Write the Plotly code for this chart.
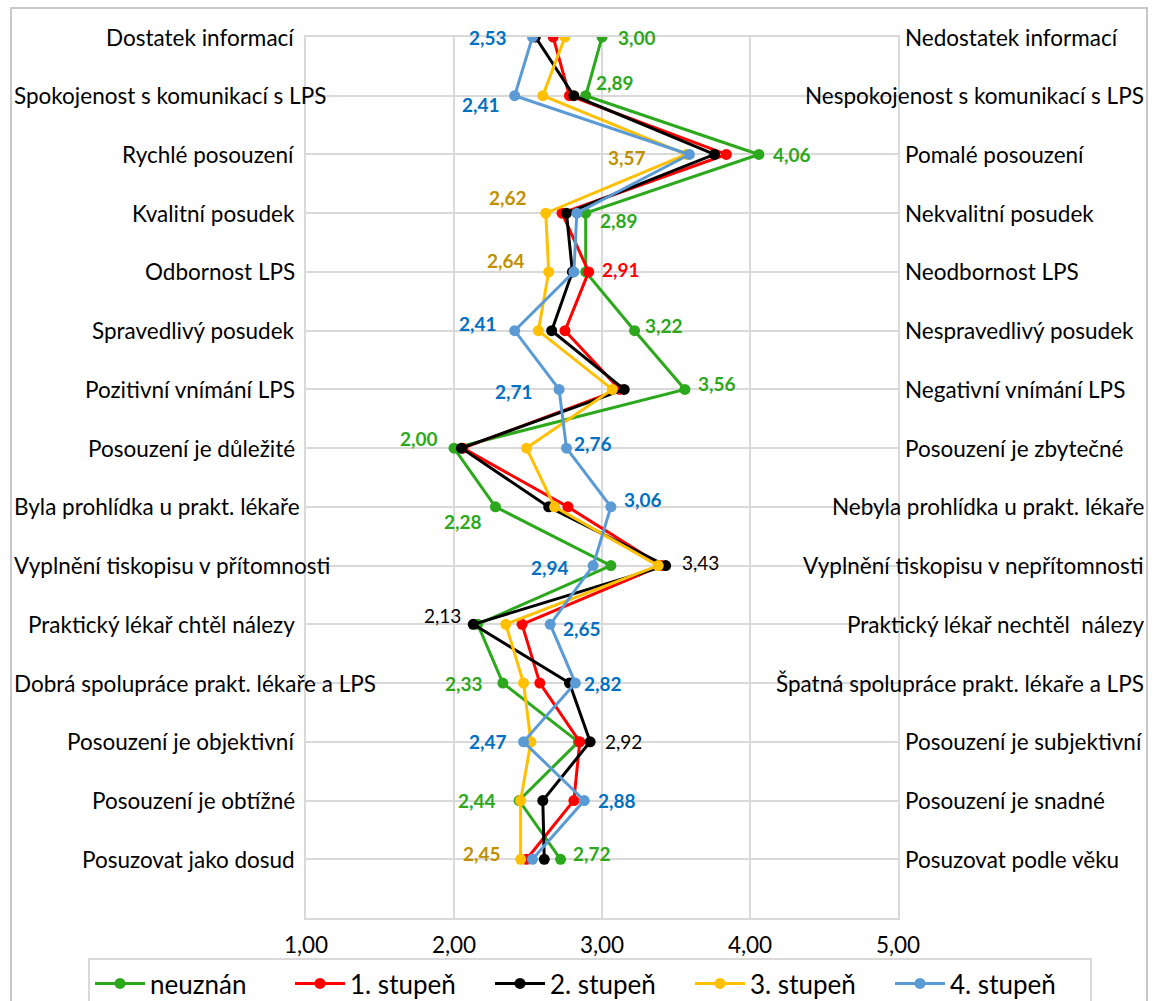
import plotly.graph_objects as go

# Semantic differential: pairs of opposite statements, one row per pair
left_labels = [
    "Dostatek informací",
    "Spokojenost s komunikací s LPS",
    "Rychlé posouzení",
    "Kvalitní posudek",
    "Odbornost LPS",
    "Spravedlivý posudek",
    "Pozitivní vnímání LPS",
    "Posouzení je důležité",
    "Byla prohlídka u prakt. lékaře",
    "Vyplnění tiskopisu v přítomnosti",
    "Praktický lékař chtěl nálezy",
    "Dobrá spolupráce prakt. lékaře a LPS",
    "Posouzení je objektivní",
    "Posouzení je obtížné",
    "Posuzovat jako dosud",
]
right_labels = [
    "Nedostatek informací",
    "Nespokojenost s komunikací s LPS",
    "Pomalé posouzení",
    "Nekvalitní posudek",
    "Neodbornost LPS",
    "Nespravedlivý posudek",
    "Negativní vnímání LPS",
    "Posouzení je zbytečné",
    "Nebyla prohlídka u prakt. lékaře",
    "Vyplnění tiskopisu v nepřítomnosti",
    "Praktický lékař nechtěl  nálezy",
    "Špatná spolupráce prakt. lékaře a LPS",
    "Posouzení je subjektivní",
    "Posouzení je snadné",
    "Posuzovat podle věku",
]

# Mean scores per group (scale 1-5)
neuznan = [3.00, 2.89, 4.06, 2.89, 2.89, 3.22, 3.56, 2.00, 2.28, 3.06, 2.16, 2.33, 2.84, 2.44, 2.72]
stupen1 = [2.67, 2.78, 3.84, 2.73, 2.91, 2.75, 3.12, 2.06, 2.77, 3.40, 2.46, 2.58, 2.85, 2.81, 2.49]
stupen2 = [2.55, 2.81, 3.76, 2.76, 2.80, 2.66, 3.15, 2.05, 2.64, 3.43, 2.13, 2.78, 2.92, 2.60, 2.61]
stupen3 = [2.75, 2.60, 3.57, 2.62, 2.64, 2.57, 3.07, 2.49, 2.68, 3.38, 2.35, 2.47, 2.52, 2.45, 2.45]
stupen4 = [2.53, 2.41, 3.59, 2.83, 2.81, 2.41, 2.71, 2.76, 3.06, 2.94, 2.65, 2.82, 2.47, 2.88, 2.53]

x_ticks = [1, 2, 3, 4, 5]
rows = list(range(1, len(left_labels) + 1))

series = [
    ("neuznán", neuznan, "#2ca81c", "#2ca81c", "bold"),
    ("1. stupeň", stupen1, "#ff0000", "#ff0000", "bold"),
    ("2. stupeň", stupen2, "#000000", "#000000", "normal"),
    ("3. stupeň", stupen3, "#ffc000", "#bf9000", "bold"),
    ("4. stupeň", stupen4, "#5b9bd5", "#0070c0", "bold"),
]
by_name = {s[0]: s for s in series}

# Value labels: (row, series, xanchor, xshift, yshift)
value_labels = [
    (1, "4. stupeň", "right", -23, 0), (1, "neuznán", "left", 14, 0),
    (2, "neuznán", "left", 8, 13), (2, "4. stupeň", "right", -13, -9),
    (3, "neuznán", "left", 12, 0), (3, "3. stupeň", "right", -38, -3),
    (4, "3. stupeň", "right", -17, 16), (4, "neuznán", "left", 12, -7),
    (5, "3. stupeň", "right", -22, 11), (5, "1. stupeň", "left", 11, 2),
    (6, "4. stupeň", "right", -16, 7), (6, "neuznán", "left", 8, 5),
    (7, "4. stupeň", "right", -24, -2), (7, "neuznán", "left", 11, 6),
    (8, "neuznán", "right", -14, 10), (8, "4. stupeň", "left", 6, 5),
    (9, "4. stupeň", "left", 11, 7), (9, "neuznán", "right", -11, -15),
    (10, "4. stupeň", "right", -22, -2), (10, "2. stupeň", "left", 14, 3),
    (11, "2. stupeň", "right", -10, 9), (11, "4. stupeň", "left", 11, -4),
    (12, "neuznán", "right", -18, 0), (12, "4. stupeň", "left", 7, 0),
    (13, "4. stupeň", "right", -15, 0), (13, "2. stupeň", "left", 13, 0),
    (14, "neuznán", "right", -21, 0), (14, "4. stupeň", "left", 12, 0),
    (15, "3. stupeň", "right", -18, 6), (15, "neuznán", "left", 10, 6),
]

W, H = 1156, 1001
FL, FR = 11, 1147          # chart frame, horizontal extent (px)
PL, PR, PT, PB = 306, 898, 37, 918  # axes area (px)
FONT = "Lato"
GRID = "#d9d9d9"
LABEL_SIZE = 22.5


def px_x(p):
    return (p - FL) / (FR - FL)


def px_y(p):
    return (PB - p) / (PB - PT)


fig = go.Figure()
for name, vals, line_col, _, _ in series:
    fig.add_trace(go.Scatter(
        x=vals, y=rows, mode="lines+markers", name=name,
        line=dict(color=line_col, width=3),
        marker=dict(color=line_col, size=11),
        hoverinfo="skip",
    ))

annotations = []
for r, name, anchor, dx, dy in value_labels:
    _, vals, _, txt_col, weight = by_name[name]
    v = vals[r - 1]
    annotations.append(dict(
        x=v, y=r, xref="x", yref="y", text=f"{v:.2f}".replace(".", ","),
        showarrow=False, xanchor=anchor, yanchor="middle",
        xshift=dx, yshift=dy,
        font=dict(family=FONT, size=19, color=txt_col, weight=weight),
    ))

# Statement labels on both sides of the axes
for r, (lt, rt) in enumerate(zip(left_labels, right_labels), start=1):
    yp = px_y(PT + (r - 1) * (PB - PT) / 15)
    lab_font = dict(family=FONT, size=LABEL_SIZE, color="#000000")
    if len(lt) >= 30:
        annotations.append(dict(x=px_x(12), y=yp, xref="paper", yref="paper", text=lt,
                                showarrow=False, xanchor="left", yanchor="middle", font=lab_font))
    else:
        annotations.append(dict(x=px_x(297), y=yp, xref="paper", yref="paper", text=lt,
                                showarrow=False, xanchor="right", yanchor="middle", font=lab_font))
    if len(rt) >= 30:
        annotations.append(dict(x=px_x(1146), y=yp, xref="paper", yref="paper", text=rt,
                                showarrow=False, xanchor="right", yanchor="middle", font=lab_font))
    else:
        annotations.append(dict(x=px_x(903), y=yp, xref="paper", yref="paper", text=rt,
                                showarrow=False, xanchor="left", yanchor="middle", font=lab_font))

fig.update_layout(
    width=W, height=H,
    margin=dict(l=FL, r=W - FR, t=PT, b=H - PB, autoexpand=False),
    paper_bgcolor="white", plot_bgcolor="white",
    separators=", ",
    font=dict(family=FONT, size=20, color="#000000"),
    showlegend=True,
    legend=dict(
        orientation="h", x=px_x(590), xanchor="center", y=px_y(958), yanchor="top",
        bordercolor=GRID, borderwidth=2, bgcolor="rgba(0,0,0,0)",
        font=dict(family=FONT, size=26, color="#000000"),
        entrywidth=135, entrywidthmode="pixels",
        itemwidth=50, tracegroupgap=0,
    ),
    xaxis=dict(
        domain=[px_x(PL), px_x(PR)],
        range=[1, 5], tickvals=x_ticks, tickformat=".2f",
        showgrid=True, gridcolor=GRID, gridwidth=2,
        showline=True, mirror=True, linecolor=GRID, linewidth=2,
        zeroline=False, ticks="",
        ticklabelstandoff=6,
        tickfont=dict(family=FONT, size=LABEL_SIZE, color="#000000"),
    ),
    yaxis=dict(
        range=[16, 1], tickvals=list(range(1, 17)),
        showgrid=True, gridcolor=GRID, gridwidth=2,
        showline=True, mirror=True, linecolor=GRID, linewidth=2,
        zeroline=False, showticklabels=False, ticks="",
    ),
    annotations=annotations,
    shapes=[dict(
        type="rect", xref="paper", yref="paper",
        x0=0, x1=1, y0=px_y(1008), y1=px_y(8),
        line=dict(color="#c8c8c8", width=2), fillcolor="rgba(0,0,0,0)", layer="below",
    )],
)

fig.write_html("out.html")
